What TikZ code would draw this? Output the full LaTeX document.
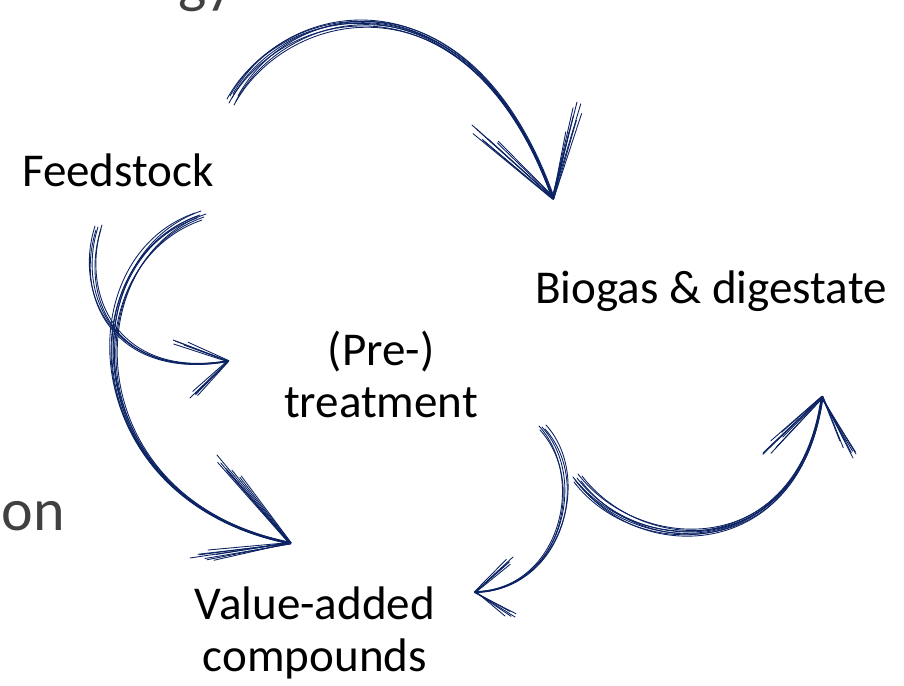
\documentclass[tikz,border=0pt]{standalone}
\usepackage{fontspec}
\setmainfont{Carlito}
\usetikzlibrary{calc}
\definecolor{sketchNavy}{HTML}{0B2263}
\definecolor{cutGray}{HTML}{404040}

\begin{document}
\begin{tikzpicture}[x=0.75pt,y=-0.75pt,
    stagelbl/.style={font=\fontsize{35.3}{39}\selectfont,inner sep=0pt,
                     align=center,text=black},
    cutlbl/.style={font=\fontsize{45}{48}\selectfont,text=cutGray,inner sep=0pt},
    strand/.style={draw=sketchNavy,line width=0.65pt,line cap=round,line join=round}
  ]
  \useasboundingbox (0,0) rectangle (904,686);
  \clip (0,0) rectangle (904,686);
  % Cut-off titles at the edges
  \node[cutlbl,anchor=base east] (titleTop)  at (234,1)   {gy};
  \node[cutlbl,anchor=base east] (titleLeft) at (65,530)  {ion};
  % Stages
  \node[stagelbl,anchor=base] (feed)     at (118,186) {Feedstock};
  \node[stagelbl,anchor=base] (biogas)   at (711,303) {Biogas \& digestate};
  \node[stagelbl]             (pretreat) at (381,374) {(Pre-)\\treatment};
  \node[stagelbl]             (value)    at (315,633) {Value-added\\compounds};
  % Arrow ends
  \coordinate (feedBioS)  at (232,98);
  \coordinate (feedBioE)  at (553,198);
  \coordinate (feedBioL)  at (472,125);
  \coordinate (feedBioR)  at (577,102);
  \coordinate (feedPreS)  at (98,227);
  \coordinate (feedPreE)  at (228,361);
  \coordinate (feedPreL)  at (173,340);
  \coordinate (feedPreR)  at (190,398);
  \coordinate (feedValS)  at (200,215);
  \coordinate (feedValE)  at (290,543);
  \coordinate (feedValL)  at (217,455);
  \coordinate (feedValR)  at (190,558);
  \coordinate (preValS)   at (542,427);
  \coordinate (preValE)   at (475,592);
  \coordinate (preValL)   at (513,557);
  \coordinate (preValR)   at (515,617);
  \coordinate (loopBioS)  at (577,478);
  \coordinate (loopBioE)  at (822,397);
  \coordinate (loopBioL)  at (763,453);
  \coordinate (loopBioR)  at (853,458);
  % Feedstock -> biogas
  \foreach \dx/\dy/\k in {0/0/1,4/3/.85,-3/5/.95,6/-2/.75,2/7/.9,-5/1/.8,1/-4/.7,-2/-2/.92}{
    \draw[strand] ($(feedBioS)+(\dx,\dy)$) .. controls +(53,-98) and +(-83,-233) .. ($(feedBioE)+(\dx*.2,\dy*.2)$);
    \draw[strand] ($(feedBioE)!\k!(feedBioL)+(\dx,\dy)$) -- ($(feedBioE)+(\dx*.2,\dy*.2)$)
                  -- ($(feedBioE)!\k!(feedBioR)+(\dy,\dx)$);
  }
  % Feedstock -> pre-treatment
  \foreach \dx/\dy/\k in {0/0/1,3/2/.85,-2/3/.95,4/-2/.8,-3/-1/.9}{
    \draw[strand] ($(feedPreS)+(\dx,\dy)$) .. controls +(-23,73) and +(-108,19) .. ($(feedPreE)+(\dx*.2,\dy*.2)$);
    \draw[strand] ($(feedPreE)!\k!(feedPreL)+(\dx,\dy)$) -- ($(feedPreE)+(\dx*.2,\dy*.2)$)
                  -- ($(feedPreE)!\k!(feedPreR)+(\dy,\dx)$);
  }
  % Feedstock -> value-added
  \foreach \dx/\dy/\k in {0/0/1,4/2/.85,-3/3/.95,6/-1/.75,2/5/.9,-5/-2/.8,1/-4/.7,-2/1/.92}{
    \draw[strand] ($(feedValS)+(\dx,\dy)$) .. controls +(-130,45) and +(-215,-43) .. ($(feedValE)+(\dx*.2,\dy*.2)$);
    \draw[strand] ($(feedValE)!\k!(feedValL)+(\dx,\dy)$) -- ($(feedValE)+(\dx*.2,\dy*.2)$)
                  -- ($(feedValE)!\k!(feedValR)+(\dy,\dx)$);
  }
  % Pre-treatment -> value-added
  \foreach \dx/\dy/\k in {0/0/1,3/2/.85,-2/3/.95,4/-2/.8,-3/-1/.9}{
    \draw[strand] ($(preValS)+(\dx,\dy)$) .. controls +(48,53) and +(85,-2) .. ($(preValE)+(\dx*.2,\dy*.2)$);
    \draw[strand] ($(preValE)!\k!(preValL)+(\dx,\dy)$) -- ($(preValE)+(\dx*.2,\dy*.2)$)
                  -- ($(preValE)!\k!(preValR)+(\dy,\dx)$);
  }
  % Loop back up to biogas
  \foreach \dx/\dy/\k in {0/0/1,4/3/.85,-3/4/.95,5/-2/.75,2/6/.9,-4/-1/.8,1/-4/.7,-2/2/.92}{
    \draw[strand] ($(loopBioS)+(\dx,\dy)$) .. controls +(63,82) and +(-22,163) .. ($(loopBioE)+(\dx*.2,\dy*.2)$);
    \draw[strand] ($(loopBioE)!\k!(loopBioL)+(\dx,\dy)$) -- ($(loopBioE)+(\dx*.2,\dy*.2)$)
                  -- ($(loopBioE)!\k!(loopBioR)+(\dy,\dx)$);
  }
\end{tikzpicture}
\end{document}
